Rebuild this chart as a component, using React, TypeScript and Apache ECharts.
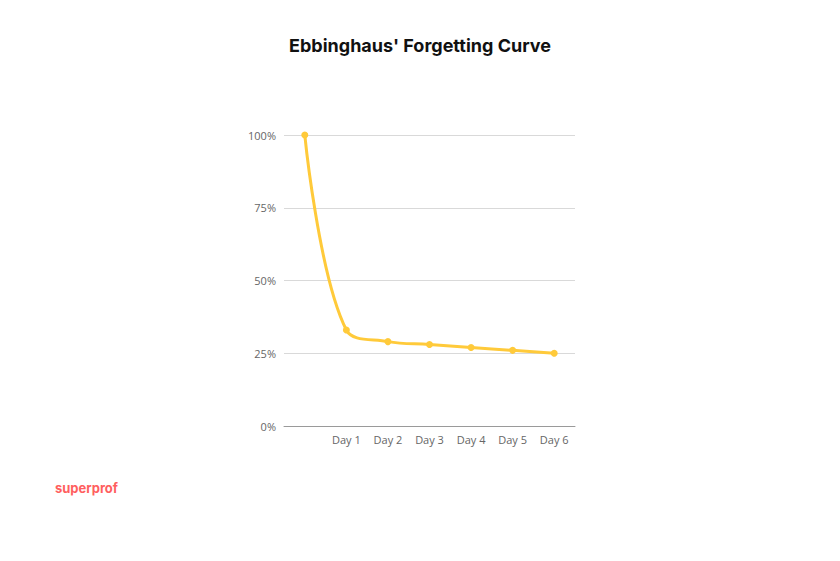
import React, { useEffect, useRef } from "react";
import * as echarts from "echarts";

const categories = ["", "Day 1", "Day 2", "Day 3", "Day 4", "Day 5", "Day 6"];
const retention = [100, 33, 29, 28, 27, 26, 25];
const yTicks = [0, 25, 50, 75, 100];

export default function App() {
  const ref = useRef<HTMLDivElement>(null);
  useEffect(() => {
    if (!ref.current) return;
    const chart = echarts.init(ref.current, null, { renderer: "svg" });
    chart.setOption({
      animation: false,
      backgroundColor: "#ffffff",
      title: {
        text: "Ebbinghaus' Forgetting Curve",
        left: "center",
        top: 31,
        textStyle: {
          fontFamily: "Inter",
          fontWeight: "bold",
          fontSize: 18,
          color: "#111111",
        },
      },
      graphic: [
        {
          type: "text",
          left: 55,
          top: 481,
          style: {
            text: "superprof",
            fontFamily: "Inter",
            fontWeight: "bold",
            fontSize: 13,
            fill: "#ff5f5f",
          },
        },
      ],
      grid: { left: 284, right: 265, top: 135, bottom: 135 },
      xAxis: {
        type: "category",
        data: categories,
        boundaryGap: true,
        axisTick: { show: false },
        axisLine: { lineStyle: { color: "#9a9a9a", width: 1 } },
        axisLabel: {
          color: "#666666",
          fontFamily: "Open Sans",
          fontSize: 11,
          margin: 8,
        },
      },
      yAxis: {
        type: "value",
        min: yTicks[0],
        max: yTicks[yTicks.length - 1],
        interval: 25,
        axisLine: { show: false },
        axisTick: { show: false },
        splitLine: { lineStyle: { color: "#d9d9d9", width: 1 } },
        axisLabel: {
          color: "#666666",
          fontFamily: "Open Sans",
          fontSize: 11,
          margin: 8,
          formatter: "{value}%",
        },
      },
      series: [
        {
          type: "line",
          data: retention,
          smooth: 0.4,
          symbol: "circle",
          symbolSize: 7,
          itemStyle: { color: "#ffca3a" },
          lineStyle: { color: "#ffca3a", width: 3 },
        },
      ],
    });
    return () => chart.dispose();
  }, []);
  return (
    <div
      ref={ref}
      style={{ position: "fixed", left: 0, top: 0, width: 840, height: 561 }}
    />
  );
}
